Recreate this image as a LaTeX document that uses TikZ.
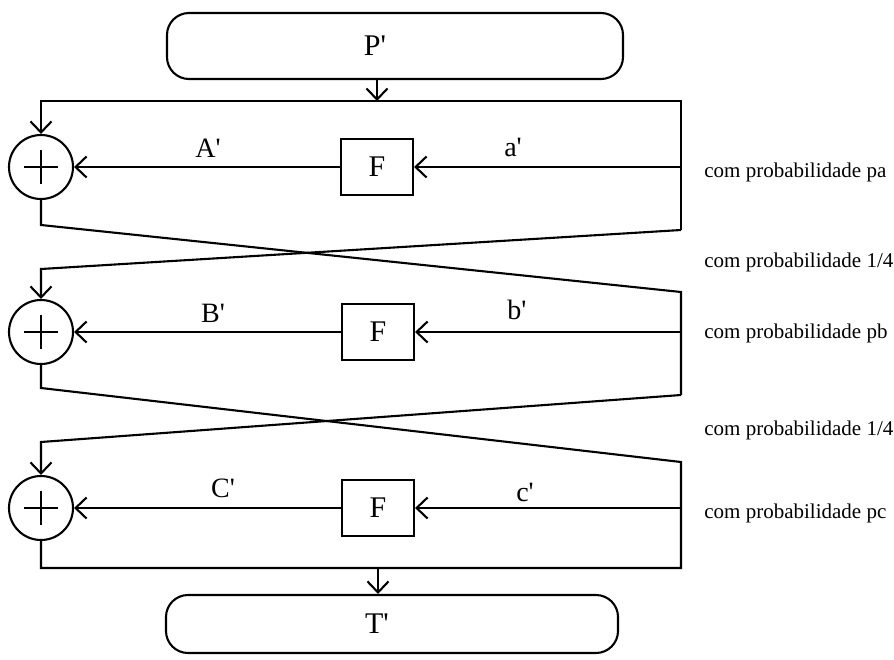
\documentclass[tikz,border=0pt]{standalone}
\usepackage{fontspec}
\setmainfont{Liberation Serif}[Ligatures=TeXOff]
\usetikzlibrary{arrows.meta}
\begin{document}
\begin{tikzpicture}[x=1pt,y=-1pt,
  line width=2.1pt,
  tip/.style={-{Straight Barb[length=11pt,width=21pt,line width=2.1pt]}},
  xorn/.style={circle,draw,minimum size=64pt,inner sep=0pt,
    path picture={\draw[line width=2.1pt]
      ([xshift=-17pt]path picture bounding box.center) -- ([xshift=17pt]path picture bounding box.center)
      ([yshift=-17pt]path picture bounding box.center) -- ([yshift=17pt]path picture bounding box.center);}},
  fbox/.style={draw,minimum width=72pt,minimum height=56pt,inner sep=0pt,font=\fontsize{30}{34}\selectfont},
  term/.style={draw,rounded corners=22pt,inner sep=0pt},
  big/.style={font=\fontsize{30}{34}\selectfont},
  lab/.style={font=\fontsize{28}{32}\selectfont},
  prob/.style={anchor=west,font=\fontsize{21}{24}\selectfont}]
\useasboundingbox (0,0) rectangle (894,659);

% terminals
\node[term,minimum width=456pt,minimum height=66pt] (P) at (395,46) {};
\node[big] (Pt) at (375,46) {P'};
\node[term,minimum width=452pt,minimum height=58pt] (T) at (392,624) {};
\node[big] (Tt) at (377,624) {T'};

% xor and F nodes
\node[xorn] (X1) at (41,167) {};
\node[xorn] (X2) at (41,332) {};
\node[xorn] (X3) at (41,508) {};
\node[fbox] (F1) at (377,167) {F};
\node[fbox] (F2) at (378,332) {F};
\node[fbox] (F3) at (378,508) {F};

% coordinates
\coordinate (top) at (377,101);
\coordinate (R1t) at (681,101);
\coordinate (R1b) at (681,230);
\coordinate (L1a) at (41,225);
\coordinate (L1b) at (41,269);
\coordinate (R2t) at (681,292);
\coordinate (R2b) at (681,395);
\coordinate (L2a) at (41,388);
\coordinate (L2b) at (41,442);
\coordinate (R3t) at (681,462);
\coordinate (R3b) at (681,568);
\coordinate (L3a) at (41,568);
\coordinate (bot) at (378,568);

% top
\draw[tip] (P.south -| top) -- (top);
\draw[tip] (R1b) -- (R1t) -- (X1.north |- top) -- (X1.north);
\draw[tip] (F1.east -| R1t) -- (F1.east);
\draw[tip] (F1.west) -- (X1.east);

% crossing 1
\draw (X1.south) -- (L1a) -- (R2t) -- (R2b);
\draw[tip] (R1b) -- (L1b) -- (X2.north);
\draw[tip] (F2.east -| R2t) -- (F2.east);
\draw[tip] (F2.west) -- (X2.east);

% crossing 2
\draw (X2.south) -- (L2a) -- (R3t) -- (R3b) -- (L3a) -- (X3.south);
\draw[tip] (R2b) -- (L2b) -- (X3.north);
\draw[tip] (F3.east -| R3t) -- (F3.east);
\draw[tip] (F3.west) -- (X3.east);

% bottom
\draw[tip] (bot) -- (T.north -| bot);

% labels
\node[lab] (A) at (208,148) {A'};
\node[lab] (a) at (513,147) {a'};
\node[lab] (B) at (213,313) {B'};
\node[lab] (b) at (517,310) {b'};
\node[lab] (C) at (223,488) {C'};
\node[lab] (c) at (525,492) {c'};

\node[prob] (pa) at (700,172) {com probabilidade pa};
\node[prob] (q1) at (700,262) {com probabilidade 1/4};
\node[prob] (pb) at (700,333) {com probabilidade pb};
\node[prob] (q2) at (700,430) {com probabilidade 1/4};
\node[prob] (pc) at (700,513) {com probabilidade pc};
\end{tikzpicture}
\end{document}
